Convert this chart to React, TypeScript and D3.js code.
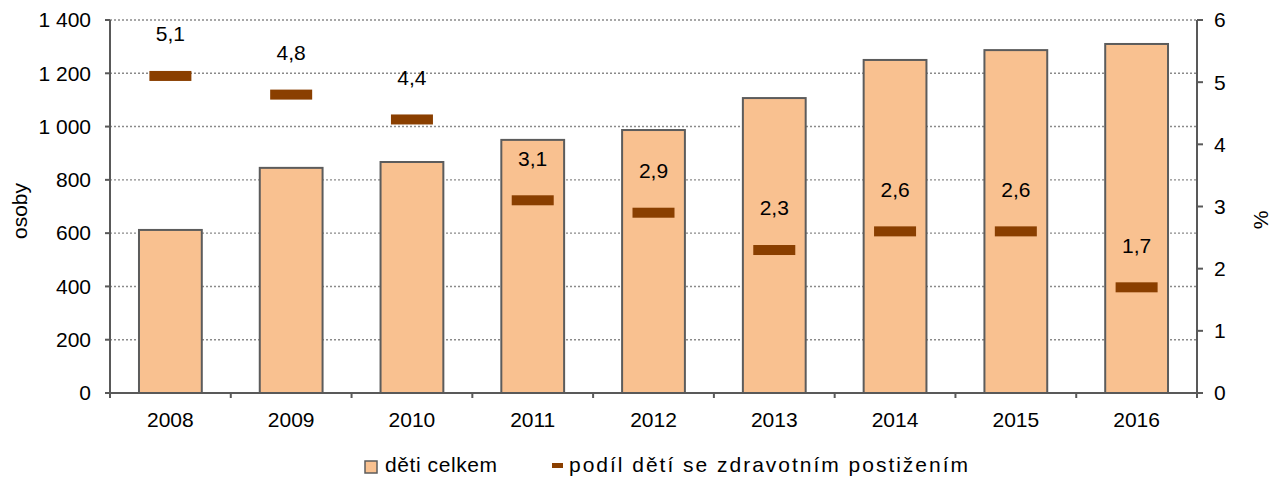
import React, { useEffect, useRef } from 'react';
import * as d3 from 'd3';

const years = ['2008', '2009', '2010', '2011', '2012', '2013', '2014', '2015', '2016'];
const childrenTotal = [612, 845, 867, 950, 987, 1107, 1250, 1287, 1310];
const disabledShare = [5.1, 4.8, 4.4, 3.1, 2.9, 2.3, 2.6, 2.6, 1.7];
const leftTicks = [0, 200, 400, 600, 800, 1000, 1200, 1400];
const rightTicks = [0, 1, 2, 3, 4, 5, 6];
const legendLabels = ['děti celkem', 'podíl dětí se zdravotním postižením'];

const W = 1271;
const H = 477;
const FONT = 'Arial, "Liberation Sans", sans-serif';
const FS = 21;

const App = () => {
  const ref = useRef<SVGSVGElement>(null);

  useEffect(() => {
    const svg = d3.select(ref.current);
    svg.selectAll('*').remove();

    const margin = { top: 20, right: 74, bottom: 84, left: 110 };
    const x0 = margin.left;
    const x1 = W - margin.right;
    const y0 = H - margin.bottom;
    const y1 = margin.top;

    const x = d3.scaleBand().domain(years).range([x0, x1]);
    const yL = d3.scaleLinear().domain([0, 1400]).range([y0, y1]);
    const yR = d3.scaleLinear().domain([0, 6]).range([y0, y1]);

    const fmtL = (v: number) => (v >= 1000 ? `${Math.floor(v / 1000)} ${String(v % 1000).padStart(3, '0')}` : `${v}`);

    // gridlines
    svg.append('g')
      .selectAll('line')
      .data(leftTicks.filter(t => t > 0))
      .join('line')
      .attr('x1', x0).attr('x2', x1)
      .attr('y1', d => yL(d)).attr('y2', d => yL(d))
      .attr('stroke', '#8a8a8a')
      .attr('stroke-width', 1.4)
      .attr('stroke-dasharray', '2,2');

    // bars
    const bw = x.bandwidth() * 0.52;
    svg.append('g')
      .selectAll('rect')
      .data(childrenTotal)
      .join('rect')
      .attr('x', (d, i) => x(years[i])! + (x.bandwidth() - bw) / 2)
      .attr('y', d => yL(d))
      .attr('width', bw)
      .attr('height', d => y0 - yL(d))
      .attr('fill', '#F9C190')
      .attr('stroke', '#5c5c5c')
      .attr('stroke-width', 2);

    // share markers
    const mw = 42;
    const mh = 10;
    svg.append('g')
      .selectAll('rect')
      .data(disabledShare)
      .join('rect')
      .attr('x', (d, i) => x(years[i])! + x.bandwidth() / 2 - mw / 2)
      .attr('y', d => yR(d) - mh / 2)
      .attr('width', mw)
      .attr('height', mh)
      .attr('fill', '#8A3F00');

    svg.append('g')
      .selectAll('text')
      .data(disabledShare)
      .join('text')
      .attr('x', (d, i) => x(years[i])! + x.bandwidth() / 2)
      .attr('y', d => yR(d) - 42)
      .attr('dy', '0.35em')
      .attr('text-anchor', 'middle')
      .attr('font-family', FONT)
      .attr('font-size', FS)
      .attr('fill', '#000')
      .text(d => d.toFixed(1).replace('.', ','));

    const axisColor = '#595959';

    // left axis
    const gl = svg.append('g');
    gl.append('line').attr('x1', x0).attr('x2', x0).attr('y1', y1).attr('y2', y0 + 5)
      .attr('stroke', axisColor).attr('stroke-width', 2);
    gl.selectAll('line.t').data(leftTicks).join('line').attr('class', 't')
      .attr('x1', x0 - 5).attr('x2', x0)
      .attr('y1', d => yL(d)).attr('y2', d => yL(d))
      .attr('stroke', axisColor).attr('stroke-width', 2);
    gl.selectAll('text').data(leftTicks).join('text')
      .attr('x', x0 - 19).attr('y', d => yL(d)).attr('dy', '0.35em')
      .attr('text-anchor', 'end')
      .attr('font-family', FONT).attr('font-size', FS)
      .text(d => fmtL(d));

    // right axis
    const gr = svg.append('g');
    gr.append('line').attr('x1', x1).attr('x2', x1).attr('y1', y1).attr('y2', y0 + 5)
      .attr('stroke', axisColor).attr('stroke-width', 2);
    gr.selectAll('line.t').data(rightTicks).join('line').attr('class', 't')
      .attr('x1', x1).attr('x2', x1 + 6)
      .attr('y1', d => yR(d)).attr('y2', d => yR(d))
      .attr('stroke', axisColor).attr('stroke-width', 2);
    gr.selectAll('text').data(rightTicks).join('text')
      .attr('x', x1 + 17).attr('y', d => yR(d)).attr('dy', '0.35em')
      .attr('text-anchor', 'start')
      .attr('font-family', FONT).attr('font-size', FS)
      .text(d => d);

    // x axis
    const gx = svg.append('g');
    gx.append('line').attr('x1', x0).attr('x2', x1).attr('y1', y0).attr('y2', y0)
      .attr('stroke', axisColor).attr('stroke-width', 2);
    gx.selectAll('line.t').data(years.slice(1)).join('line').attr('class', 't')
      .attr('x1', d => x(d)!).attr('x2', d => x(d)!)
      .attr('y1', y0).attr('y2', y0 + 5)
      .attr('stroke', axisColor).attr('stroke-width', 2);
    gx.selectAll('text').data(years).join('text')
      .attr('x', d => x(d)! + x.bandwidth() / 2).attr('y', 427)
      .attr('text-anchor', 'middle')
      .attr('font-family', FONT).attr('font-size', FS)
      .text(d => d);

    // axis titles
    svg.append('text')
      .attr('transform', 'translate(27,211) rotate(-90)')
      .attr('text-anchor', 'middle')
      .attr('font-family', FONT).attr('font-size', FS)
      .text('osoby');
    svg.append('text')
      .attr('transform', 'translate(1268,220) rotate(-90)')
      .attr('text-anchor', 'middle')
      .attr('font-family', FONT).attr('font-size', FS)
      .text('%');

    // legend
    const lg = svg.append('g');
    lg.append('rect').attr('x', 365).attr('y', 461).attr('width', 12).attr('height', 12)
      .attr('fill', '#F9C190').attr('stroke', '#5c5c5c').attr('stroke-width', 1.5);
    lg.append('text').attr('x', 385).attr('y', 472)
      .attr('font-family', FONT).attr('font-size', FS)
      .attr('textLength', 112).attr('lengthAdjust', 'spacing')
      .text(legendLabels[0]);
    lg.append('rect').attr('x', 552).attr('y', 463).attr('width', 11).attr('height', 5)
      .attr('fill', '#8A3F00');
    lg.append('text').attr('x', 569).attr('y', 472)
      .attr('font-family', FONT).attr('font-size', FS)
      .attr('textLength', 399).attr('lengthAdjust', 'spacing')
      .text(legendLabels[1]);
  }, []);

  return <svg ref={ref} width={W} height={H} style={{ display: 'block', position: 'absolute', left: 0, top: 0 }} />;
};

export default App;
